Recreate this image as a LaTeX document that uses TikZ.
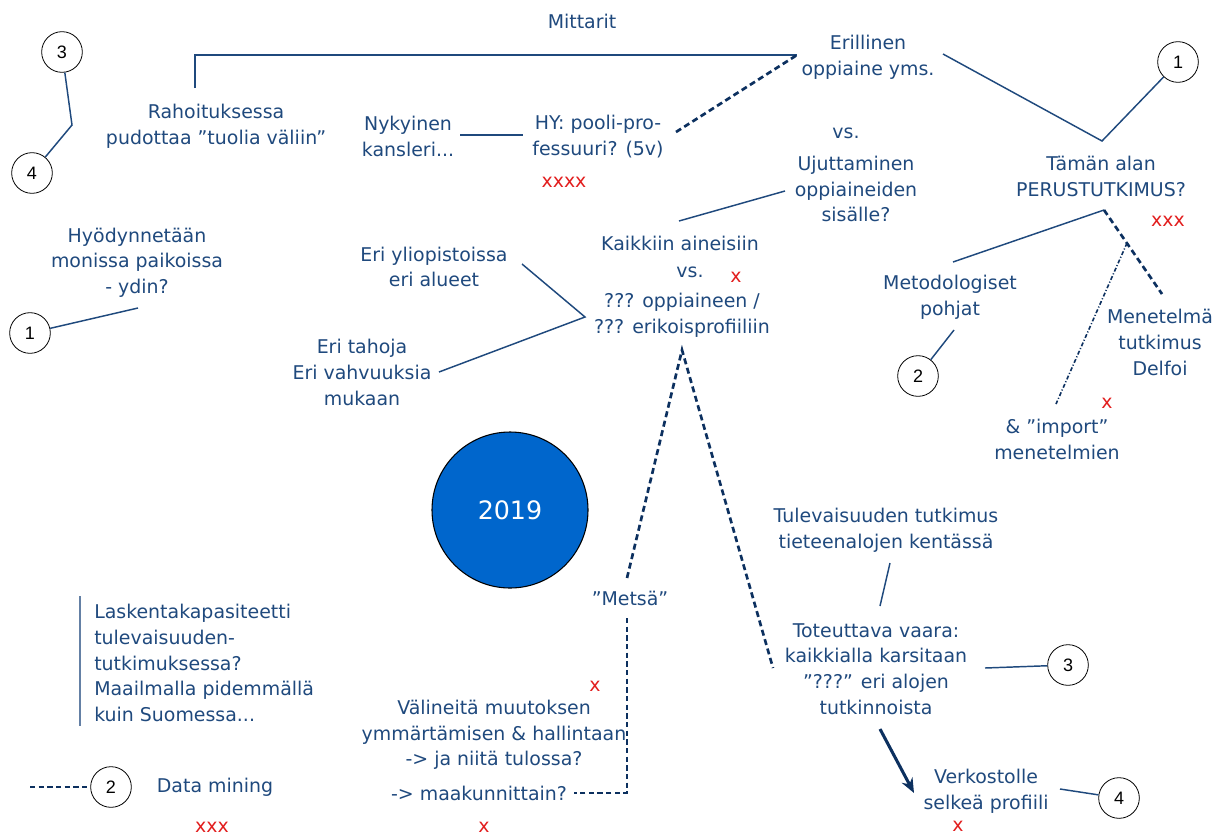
\documentclass[tikz,border=0pt]{standalone}
\usepackage{fontspec}
\setmainfont{DejaVu Sans}
\newfontfamily\numfont{Liberation Sans}
\usetikzlibrary{arrows.meta}
\definecolor{tblue}{RGB}{31,73,125}
\definecolor{dblue}{RGB}{12,48,95}
\definecolor{xred}{RGB}{226,30,30}
\definecolor{barblue}{RGB}{100,128,165}
\definecolor{discblue}{RGB}{0,102,204}
\begin{document}
\begin{tikzpicture}[x=0.75pt,y=-0.75pt,
  txt/.style={text=tblue, align=center, inner sep=0pt, font=\fontsize{14.2}{19.2}\selectfont},
  redx/.style={text=xred, inner sep=0pt, font=\fontsize{14.2}{19.2}\selectfont},
  numc/.style={circle, draw=black, line width=0.6pt, minimum size=30.5pt, inner sep=0pt, fill=white, font=\numfont\fontsize{13.5}{13.5}\selectfont},
  solidln/.style={draw=tblue, line width=1.1pt},
  dashln/.style={draw=dblue, line width=2pt, dash pattern=on 4.5pt off 2.8pt},
  dashthin/.style={draw=dblue, line width=1.6pt, dash pattern=on 4pt off 2.5pt},
  dashdotln/.style={draw=dblue, line width=1.2pt, dash pattern=on 3pt off 1.5pt on 0.8pt off 1.5pt}]
\useasboundingbox (0,0) rectangle (1223,839);

% texts
\node[txt] (mitt) at (582,21) {Mittarit};
\node[txt] (eril) at (868,57.5) {Erillinen\\oppiaine yms.};
\node[txt] (tama) at (1101,176.5) {Tämän alan\\PERUSTUTKIMUS?};
\node[redx] (x1) at (1168,221) {xxx};
\node[txt] (raho) at (216,126.5) {Rahoituksessa\\pudottaa ”tuolia väliin”};
\node[txt] (nyky) at (408,136.5) {Nykyinen\\kansleri...};
\node[txt] (hy) at (598,136.5) {HY: pooli-pro-\\fessuuri? (5v)};
\node[redx] (x2) at (564,182) {xxxx};
\node[txt] (vs1) at (846,133) {vs.};
\node[txt] (ujut) at (856,189) {Ujuttaminen\\oppiaineiden\\sisälle?};
\node[txt] (kaik) at (680,243) {Kaikkiin aineisiin};
\node[txt] (vs2) at (690,272) {vs.};
\node[redx] (x3) at (736,277) {x};
\node[txt] (oppi) at (682,315.5) {??? oppiaineen /\\??? erikoisprofiiliin};
\node[txt] (yli) at (434,267) {Eri yliopistoissa\\eri alueet};
\node[txt] (taho) at (362,372.5) {Eri tahoja\\Eri vahvuuksia\\mukaan};
\node[txt] (hyod) at (137,262.5) {Hyödynnetään\\monissa paikoissa\\- ydin?};
\node[txt] (meto) at (950,297.5) {Metodologiset\\pohjat};
\node[txt] (mene) at (1160,342.5) {Menetelmä\\tutkimus\\Delfoi};
\node[redx] (x4) at (1107,403) {x};
\node[txt] (impo) at (1057,439.5) {\& ”import”\\menetelmien};
\node[txt] (tule) at (886,530.5) {Tulevaisuuden tutkimus\\tieteenalojen kentässä};
\node[txt] (tote) at (876,669) {Toteuttava vaara:\\kaikkialla karsitaan\\”???” eri alojen\\tutkinnoista};
\node[txt] (verk) at (986,791) {Verkostolle\\selkeä profiili};
\node[redx] (x5) at (958,826) {x};
\node[txt] (mets) at (630,598) {”Metsä”};
\node[redx] (x6) at (595,686) {x};
\node[txt] (vali) at (494,735) {Välineitä muutoksen\\ymmärtämisen \& hallintaan\\-> ja niitä tulossa?};
\node[txt] (maak) at (479,793) {-> maakunnittain?};
\node[redx] (x7) at (484,827) {x};
\node[txt, align=left, anchor=west] (lask) at (94,663) {Laskentakapasiteetti\\tulevaisuuden-\\tutkimuksessa?\\Maailmalla pidemmällä\\kuin Suomessa...};
\node[txt] (data) at (215,787) {Data mining};
\node[redx] (x8) at (212,827) {xxx};

% 2019 disc
\node[circle, draw=black, line width=0.8pt, fill=discblue, minimum size=117pt, inner sep=0pt, text=white, font=\fontsize{19}{19}\selectfont] (disc) at (510,510) {2019};

% numbered circles
\node[numc] (c1a) at (1178,62) {1};
\node[numc] (c3a) at (62,52) {3};
\node[numc] (c4a) at (32,173) {4};
\node[numc] (c1b) at (30,333) {1};
\node[numc] (c2a) at (918,376) {2};
\node[numc] (c3b) at (1068,665) {3};
\node[numc] (c4b) at (1119,798) {4};
\node[numc] (c2b) at (111,787) {2};

% coordinates
\coordinate (brA) at (195,88);
\coordinate (brB) at (195,55);
\coordinate (brC) at (797,55);
\coordinate (hyE) at (676,132);
\coordinate (erE) at (943,54);
\coordinate (vV) at (1102,141);
\coordinate (ujS) at (785,191);
\coordinate (ujE) at (679,221);
\coordinate (vA) at (522,264);
\coordinate (vB) at (585,317);
\coordinate (vC) at (439,372);
\coordinate (hyoE) at (138,308);
\coordinate (nyE) at (460,135);
\coordinate (hyS) at (523,135);
\coordinate (ptop) at (1104,210);
\coordinate (metE) at (953,262);
\coordinate (menE) at (1162,294);
\coordinate (ddA) at (1127,243);
\coordinate (ddB) at (1056,404);
\coordinate (c2E) at (954,330);
\coordinate (apex) at (682,350);
\coordinate (metsT) at (627,578);
\coordinate (toteT) at (773,668);
\coordinate (metsB) at (627,618);
\coordinate (corn) at (627,793);
\coordinate (maakE) at (574,793);
\coordinate (tulB) at (890,563);
\coordinate (totT) at (880,606);
\coordinate (totE) at (985,668);
\coordinate (arA) at (880,729);
\coordinate (arB) at (914,793);
\coordinate (verE) at (1060,789);
\coordinate (lefE) at (30,787);
\coordinate (barT) at (80,596);
\coordinate (barB) at (80,726);
\coordinate (bend34) at (72,125);

% solid lines
\draw[solidln] (brA) -- (brB) -- (brC);
\draw[solidln] (erE) -- (vV) -- (c1a);
\draw[solidln] (c3a) -- (bend34) -- (c4a);
\draw[solidln] (nyE) -- (hyS);
\draw[solidln] (ujS) -- (ujE);
\draw[solidln] (vA) -- (vB) -- (vC);
\draw[solidln] (c1b) -- (hyoE);
\draw[solidln] (ptop) -- (metE);
\draw[solidln] (c2a) -- (c2E);
\draw[solidln] (tulB) -- (totT);
\draw[solidln] (totE) -- (c3b);
\draw[solidln] (verE) -- (c4b);

% dashed lines
\draw[dashln] (hyE) -- (brC);
\draw[dashln] (ptop) -- (menE);
\draw[dashdotln] (ddA) -- (ddB);
\draw[dashln] (metsT) -- (apex) -- (toteT);
\draw[dashthin] (metsB) -- (corn) -- (maakE);
\draw[dashthin] (lefE) -- (c2b);

% arrow
\draw[draw=dblue, line width=2.3pt, -{Stealth[length=11pt,width=9pt]}] (arA) -- (arB);

% side bar
\draw[draw=barblue, line width=2.2pt] (barT) -- (barB);
\end{tikzpicture}
\end{document}
